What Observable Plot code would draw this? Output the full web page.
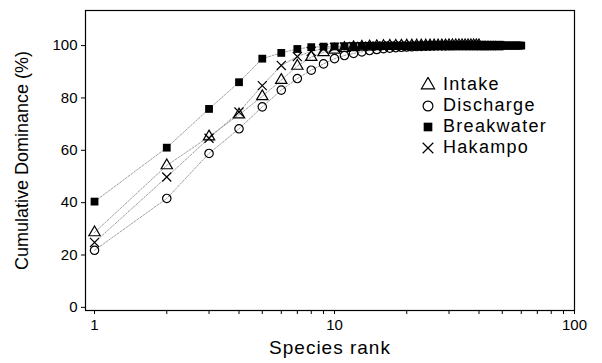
<!DOCTYPE html>
<html><head><meta charset="utf-8">
<script src="https://cdn.jsdelivr.net/npm/d3@7"></script>
<script src="https://cdn.jsdelivr.net/npm/@observablehq/plot@0.6"></script>
<style>
body{margin:0;background:#fff;font-family:"Liberation Sans",Arial,sans-serif}
#wrap{position:relative;width:602px;height:363px}
#legend{position:absolute;left:420px;top:74px;font-size:18px;letter-spacing:1.3px;line-height:21px;color:#000}
#legend div{display:flex;align-items:center;height:21px}
#legend svg{width:16px;height:16px;margin-right:7px}
</style></head><body><div id="wrap"><div id="legend"></div></div>
<script>
const seriesNames = ["Intake", "Discharge", "Breakwater", "Hakampo"];
const intake = [28.6, 54.2, 65.2, 73.6, 80.6, 86.8, 92.2, 95.6, 97.4, 98.4, 99.0, 99.3, 99.5, 99.6, 99.7, 99.75, 99.8, 99.85, 99.88, 99.9, 99.92, 99.93, 99.94, 99.95, 99.96, 99.97, 99.97, 99.98, 99.98, 99.99, 99.99, 99.99, 100, 100, 100, 100, 100, 100, 100, 100];
const discharge = [21.8, 41.6, 58.8, 68.2, 76.6, 83.0, 87.4, 90.6, 93.0, 95.0, 96.2, 97.0, 97.6, 98.1, 98.5, 98.8, 99.0, 99.2, 99.35, 99.45, 99.55, 99.62, 99.68, 99.73, 99.78, 99.82, 99.85, 99.88, 99.9, 99.92, 99.94, 99.95, 99.96, 99.97, 99.98, 99.98, 99.99, 99.99, 99.99, 100, 100, 100, 100, 100, 100, 100, 100, 100, 100, 100];
const breakwater = [40.4, 61.0, 75.8, 86.0, 95.0, 97.2, 98.7, 99.4, 99.6, 99.7, 99.78, 99.84, 99.88, 99.9, 99.92, 99.93, 99.94, 99.95, 99.96, 99.96, 99.97, 99.97, 99.98, 99.98, 99.98, 99.99, 99.99, 99.99, 99.99, 100, 100, 100, 100, 100, 100, 100, 100, 100, 100, 100, 100, 100, 100, 100, 100, 100, 100, 100, 100, 100, 100, 100, 100, 100, 100, 100, 100, 100, 100, 100];
const hakampo = [24.8, 49.8, 64.6, 74.6, 84.7, 92.4, 95.8, 97.8, 98.8, 99.3, 99.5, 99.62, 99.7, 99.76, 99.8, 99.84, 99.87, 99.9, 99.92, 99.94, 99.95, 99.96, 99.97, 99.98, 99.98, 99.99, 99.99, 100, 100, 100, 100, 100, 100, 100, 100, 100, 100, 100, 100, 100, 100, 100, 100, 100, 100];
const yTicks = [0, 20, 40, 60, 80, 100];
const xTicks = [1, 2, 3, 4, 5, 6, 7, 8, 9, 10, 20, 30, 40, 50, 60, 70, 80, 90, 100];
const xMajor = [1, 10, 100];
const symbols = ["triangle", "circle", "square", "times"];

const seriesValues = [intake, discharge, breakwater, hakampo];
const rows = [];
seriesNames.forEach((s, i) => seriesValues[i].forEach((v, j) => rows.push({series: s, rank: j + 1, value: v})));

const chart = Plot.plot({
  width: 602, height: 363,
  marginLeft: 85, marginRight: 28, marginTop: 10, marginBottom: 53,
  x: {type: "log", domain: [0.917, 100]},
  y: {domain: [-1.2, 113.4]},
  symbol: {domain: seriesNames, range: symbols},
  style: {fontFamily: "'Liberation Sans', Arial, sans-serif", fontSize: "15px", color: "#000", background: "#fff"},
  marks: [
    Plot.line(rows, {x: "rank", y: "value", z: "series", stroke: "#888", strokeWidth: 0.8, strokeDasharray: "2,1.5"}),
    Plot.dot(rows.filter(d => d.series !== "Breakwater"), {x: "rank", y: "value", symbol: "series", stroke: "#000", strokeWidth: 1.2, fill: "none", r: 4.2}),
    Plot.dot(rows.filter(d => d.series === "Breakwater"), {x: "rank", y: "value", symbol: "series", fill: "#000", stroke: "none", r: 4.4}),
    Plot.frame({stroke: "#000", strokeWidth: 1.2}),
    Plot.axisY({ticks: yTicks, tickSize: 4, tickPadding: 4, label: null, fontSize: 15}),
    Plot.axisX({ticks: xTicks, tickSize: 4, tickPadding: 5, label: null, fontSize: 15, tickFormat: d => xMajor.includes(d) ? String(d) : ""}),
    Plot.text(["Species rank"], {frameAnchor: "bottom", dy: 43, fontSize: 19, text: d => d}),
    Plot.text(["Cumulative Dominance (%)"], {frameAnchor: "left", textAnchor: "middle", dx: -63, rotate: -90, fontSize: 18, text: d => d})
  ]
});
document.getElementById("wrap").prepend(chart);
d3.select(chart).selectAll("text").filter(function() { return this.textContent === "Species rank"; }).attr("letter-spacing", "1px");

// legend
const leg = d3.select("#legend");
seriesNames.forEach((s, i) => {
  const row = leg.append("div");
  const svg = row.append("svg").attr("viewBox", "-8 -8 16 16");
  const sym = d3.symbol(d3["symbol" + symbols[i][0].toUpperCase() + symbols[i].slice(1)], 75)();
  svg.append("path").attr("d", sym)
    .attr("fill", s === "Breakwater" ? "#000" : "none")
    .attr("stroke", s === "Breakwater" ? "none" : "#000")
    .attr("stroke-width", 1.2);
  row.append("span").text(s);
});
</script></body></html>
